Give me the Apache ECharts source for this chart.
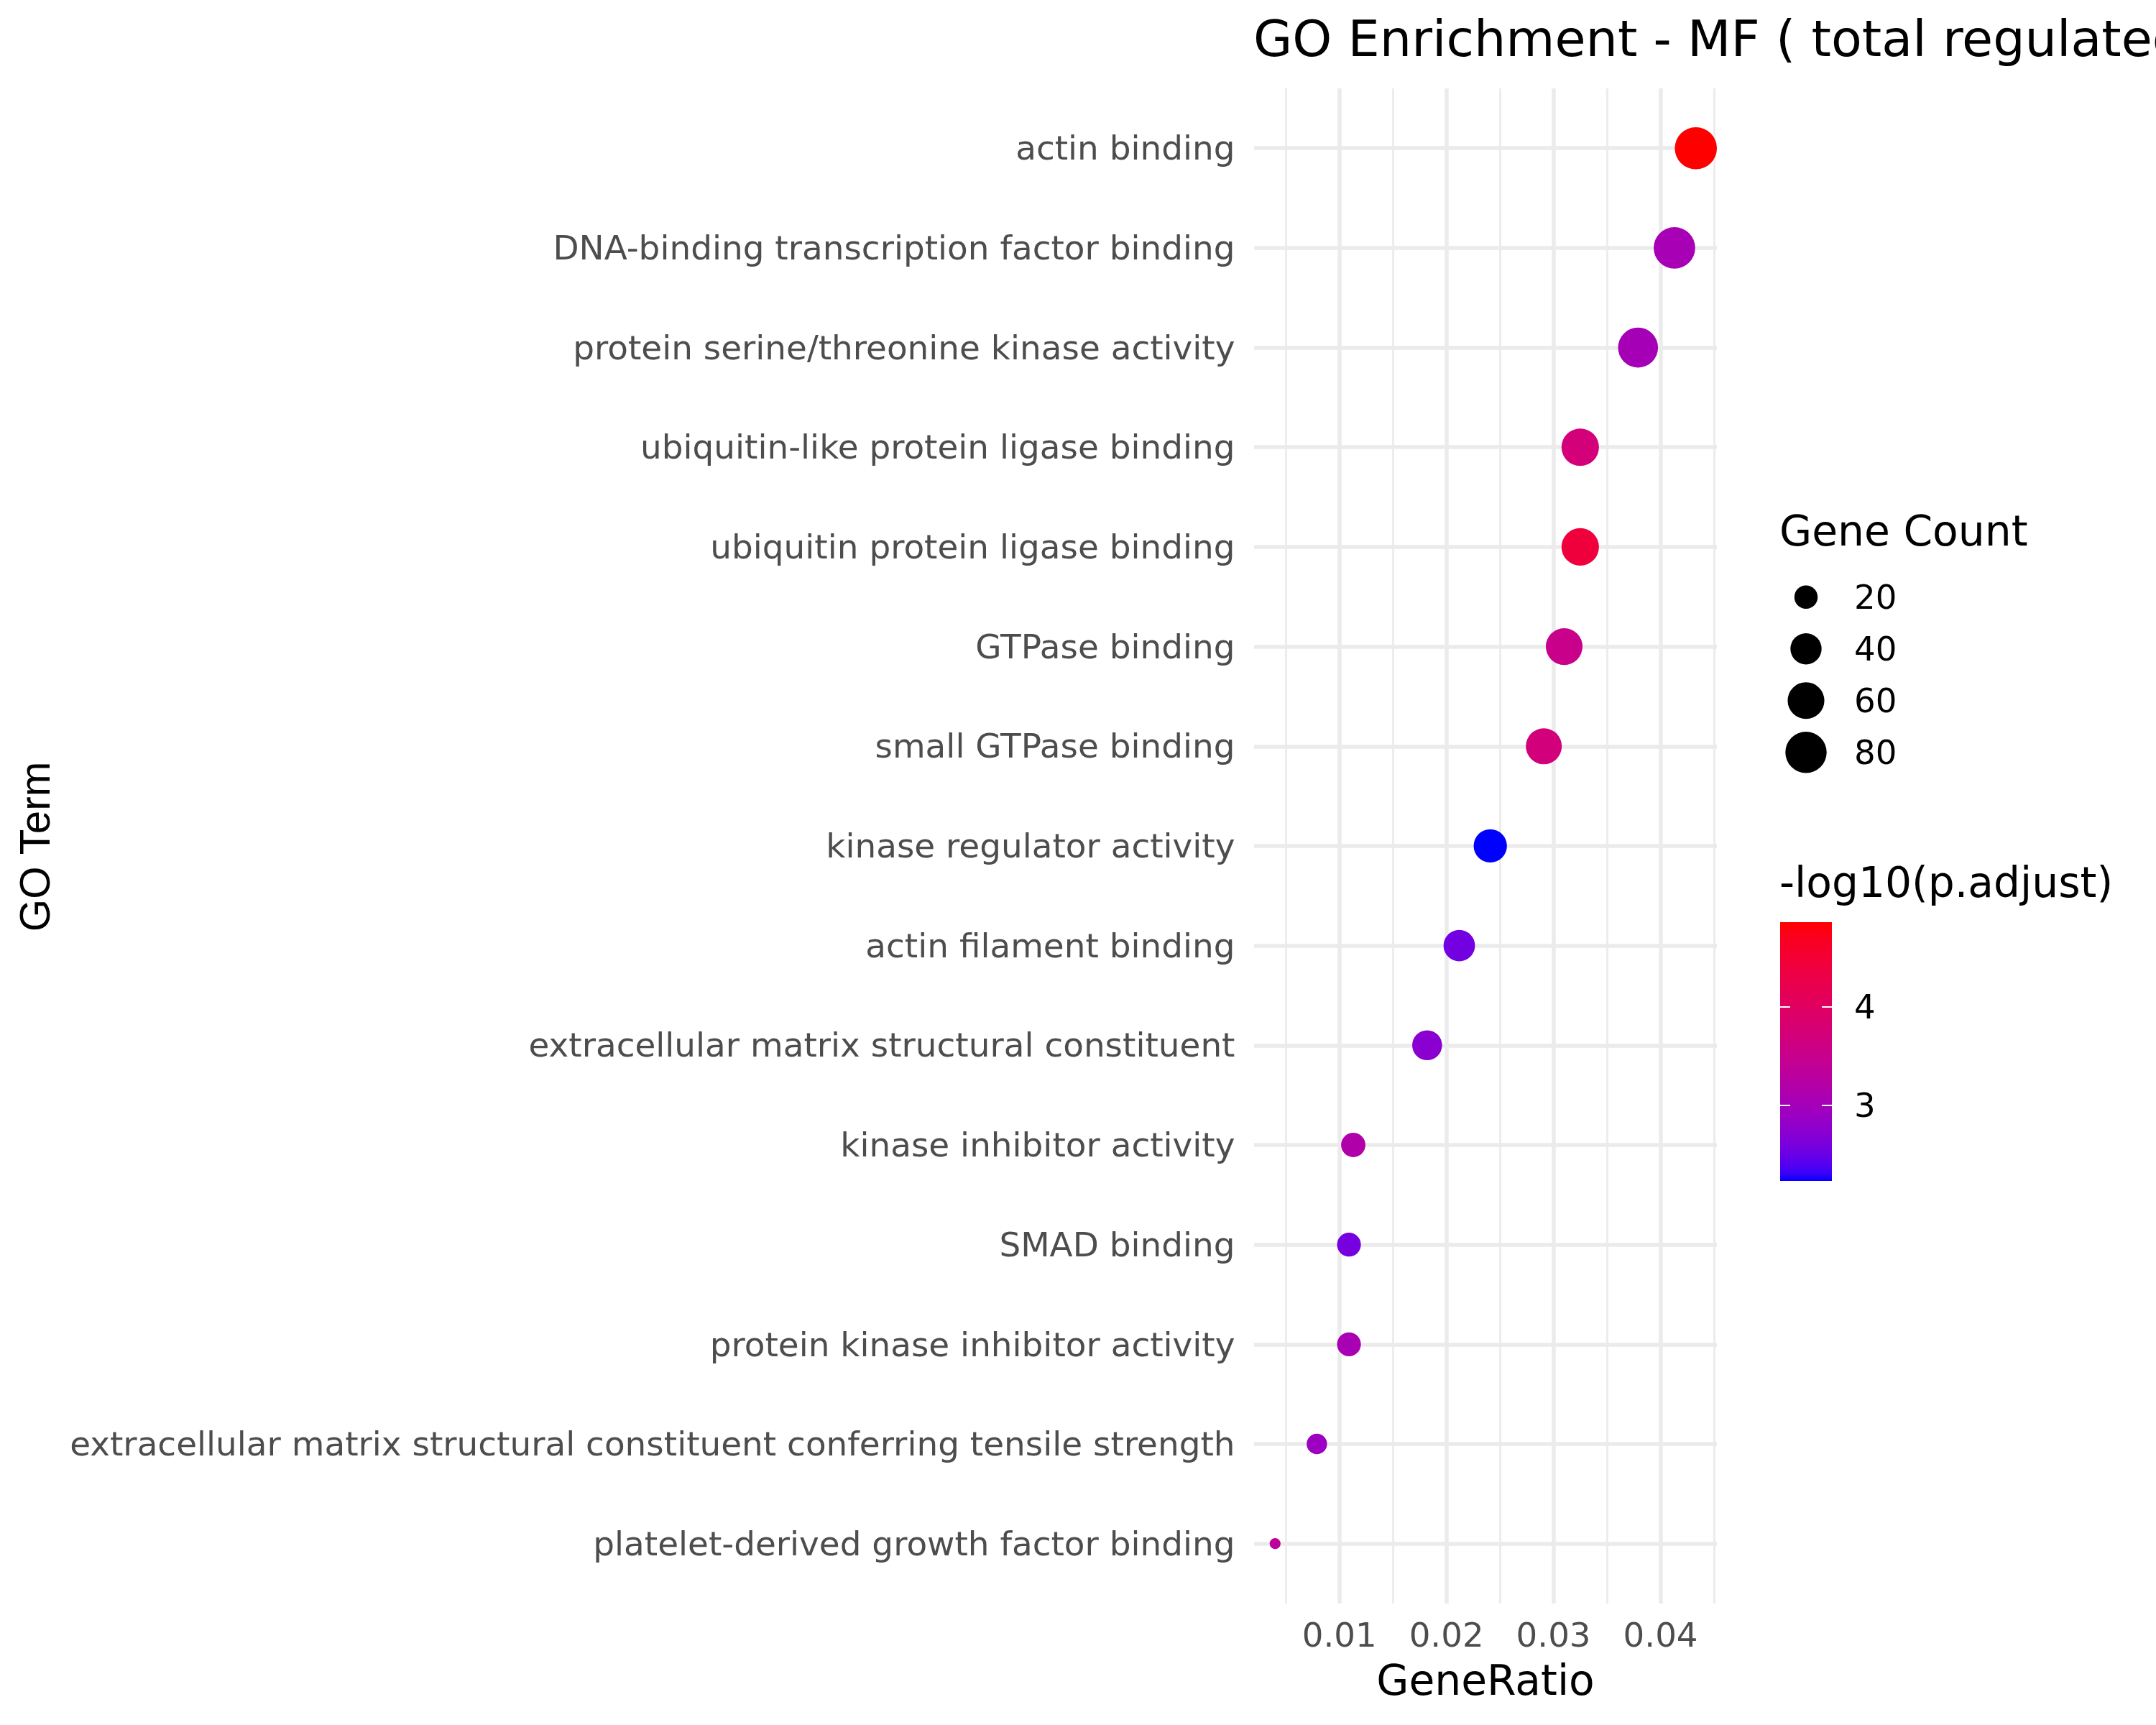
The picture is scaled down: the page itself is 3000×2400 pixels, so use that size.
<!DOCTYPE html>
<html>
<head>
<meta charset="utf-8">
<script src="https://cdn.jsdelivr.net/npm/echarts@6/dist/echarts.min.js"></script>
<style>
html,body{margin:0;padding:0;background:#ffffff;}
#chart{width:3000px;height:2400px;}
</style>
</head>
<body>
<div id="chart"></div>
<script>
// ---------------- data (top to bottom) ----------------
const terms = [
  'actin binding',
  'DNA-binding transcription factor binding',
  'protein serine/threonine kinase activity',
  'ubiquitin-like protein ligase binding',
  'ubiquitin protein ligase binding',
  'GTPase binding',
  'small GTPase binding',
  'kinase regulator activity',
  'actin filament binding',
  'extracellular matrix structural constituent',
  'kinase inhibitor activity',
  'SMAD binding',
  'protein kinase inhibitor activity',
  'extracellular matrix structural constituent conferring tensile strength',
  'platelet-derived growth factor binding'
];
const geneRatio = [0.0433, 0.0413, 0.0379, 0.0325, 0.0325, 0.0310, 0.0291, 0.0241, 0.0212, 0.0182, 0.0113, 0.0109, 0.0109, 0.0079, 0.0040];
const geneCount = [84, 81, 74, 63, 63, 60, 57, 47, 41, 36, 22, 21, 21, 15, 8];
const negLog10Padj = [4.86, 3.04, 3.02, 3.72, 4.41, 3.52, 3.70, 2.23, 2.55, 2.72, 3.17, 2.58, 3.06, 2.91, 3.34];

const xTicks = [0.01, 0.02, 0.03, 0.04];
const xMinorTicks = [0.005, 0.015, 0.025, 0.035, 0.045];
const sizeBreaks = [20, 40, 60, 80];
const colorTicks = [3, 4];

const titleText = 'GO Enrichment - MF ( total regulated genes )';

// ---------------- helpers ----------------
const FONT = '"DejaVu Sans", sans-serif';
function s2l(c){ c/=255; return c<=0.04045 ? c/12.92 : Math.pow((c+0.055)/1.055, 2.4); }
function l2s(c){ c=Math.max(0,Math.min(1,c)); return Math.round(255*(c<=0.0031308 ? 12.92*c : 1.055*Math.pow(c,1/2.4)-0.055)); }
const WX=0.95047, WY=1.0, WZ=1.08883;
function rgbToLab(rgb){
  const R=s2l(rgb[0]), G=s2l(rgb[1]), B=s2l(rgb[2]);
  const X=(0.4124564*R+0.3575761*G+0.1804375*B)/WX;
  const Y=(0.2126729*R+0.7151522*G+0.0721750*B)/WY;
  const Z=(0.0193339*R+0.1191920*G+0.9503041*B)/WZ;
  const f=t=> t>216/24389 ? Math.cbrt(t) : (24389/27*t+16)/116;
  const fx=f(X), fy=f(Y), fz=f(Z);
  return [116*fy-16, 500*(fx-fy), 200*(fy-fz)];
}
function labToRgb(lab){
  const fy=(lab[0]+16)/116, fx=fy+lab[1]/500, fz=fy-lab[2]/200;
  const fi=t=>{ const t3=t*t*t; return t3>216/24389 ? t3 : (116*t-16)/(24389/27); };
  const X=WX*fi(fx), Y=WY*fi(fy), Z=WZ*fi(fz);
  const R= 3.2404542*X-1.5371385*Y-0.4985314*Z;
  const G=-0.9692660*X+1.8760108*Y+0.0415560*Z;
  const B= 0.0556434*X-0.2040259*Y+1.0572252*Z;
  return 'rgb('+l2s(R)+','+l2s(G)+','+l2s(B)+')';
}
const labLow = rgbToLab([0,0,255]), labHigh = rgbToLab([255,0,0]);
const NSTOP = 40;
const rampColors = [];
for (let i=0;i<=NSTOP;i++){
  const t=i/NSTOP;
  rampColors.push(labToRgb([0,1,2].map(k=>labLow[k]+(labHigh[k]-labLow[k])*t)));
}
const gradStops = rampColors.map((c,i)=>({offset:i/NSTOP, color:c}));

const vMin = Math.min(...negLog10Padj), vMax = Math.max(...negLog10Padj);
const cMin = Math.min(...geneCount), cMax = Math.max(...geneCount);
const rMin = Math.min(...geneRatio), rMax = Math.max(...geneRatio);
const xMin = rMin - 0.05*(rMax-rMin), xMax = rMax + 0.05*(rMax-rMin);

function sizeOf(c){ return 15.2 + 43.4*Math.sqrt(Math.max(0,(c-cMin)/(cMax-cMin))); }

const pointData = terms.map((t,i)=>[geneRatio[i], t, negLog10Padj[i], geneCount[i]]);
const legendData = sizeBreaks.map(b=>[0.5, String(b), b]);

const gridColor = '#EBEBEB';
const DY = 4; // text baseline correction
// labels aligned 'top' with a tiny line height => text centre sits DY below the tick
const shiftedLabel = {verticalAlign:'top', lineHeight:2*DY};

const chart = echarts.init(document.getElementById('chart'), null, {renderer:'canvas'});
chart.setOption({
  animation:false,
  backgroundColor:'#ffffff',
  grid:[
    {left:1745, right:611, top:123, bottom:169},      // panel (vertical grid lines, x labels)
    {left:1745, right:611, top:206.2, bottom:252.3},  // points (row centres)
    {left:2477, right:451, top:830.7, bottom:1353.3}, // size legend
    {left:2477, right:451, top:1283, bottom:757}      // colour bar
  ],
  xAxis:[
    {gridIndex:0, type:'value', min:xMin, max:xMax,
     axisLine:{show:false},
     axisTick:{show:false, customValues:xTicks},
     axisLabel:{customValues:xTicks, color:'#4D4D4D', fontSize:46.7, fontFamily:FONT, margin:20.6+DY, lineHeight:46.7,
                formatter:v=>v.toFixed(2)},
     splitLine:{show:true, lineStyle:{color:gridColor, width:5.5}}},
    {gridIndex:0, type:'value', min:xMin, max:xMax,
     axisLine:{show:false},
     axisTick:{show:false, customValues:xMinorTicks},
     axisLabel:{show:false},
     splitLine:{show:true, lineStyle:{color:gridColor, width:2.75}}},
    {gridIndex:1, type:'value', min:xMin, max:xMax, show:false},
    {gridIndex:2, type:'value', min:0, max:1, show:false},
    {gridIndex:3, type:'category', data:['bar'], show:false}
  ],
  yAxis:[
    {gridIndex:0, type:'value', min:0, max:1, show:false},
    {gridIndex:1, type:'category', data:terms, inverse:true, boundaryGap:false,
     axisLine:{show:false}, axisTick:{show:false},
     axisLabel:Object.assign({interval:0, color:'#4D4D4D', fontSize:46.9, fontFamily:FONT, margin:26.5}, shiftedLabel),
     splitLine:{show:true, interval:0, lineStyle:{color:gridColor, width:5.5}}},
    {gridIndex:2, type:'category', data:sizeBreaks.map(String), inverse:true, boundaryGap:false, position:'right',
     axisLine:{show:false}, axisTick:{show:false}, splitLine:{show:false},
     axisLabel:Object.assign({interval:0, color:'#000000', fontSize:46.7, fontFamily:FONT, margin:31}, shiftedLabel)},
    {gridIndex:3, type:'value', min:vMin, max:vMax, position:'left', z:10,
     axisLine:{show:false}, splitLine:{show:false},
     axisTick:{show:true, inside:true, length:14, customValues:colorTicks, lineStyle:{color:'#ffffff', width:2}},
     axisLabel:{show:false}},
    {gridIndex:3, type:'value', min:vMin, max:vMax, position:'right', z:10,
     axisLine:{show:false}, splitLine:{show:false},
     axisTick:{show:true, inside:true, length:14, customValues:colorTicks, lineStyle:{color:'#ffffff', width:2}},
     axisLabel:Object.assign({customValues:colorTicks, color:'#000000', fontSize:46.7, fontFamily:FONT, margin:31}, shiftedLabel)}
  ],
  visualMap:[{
    type:'continuous', show:false, seriesIndex:0, dimension:2, min:vMin, max:vMax,
    inRange:{color:rampColors}
  }],
  series:[
    {type:'scatter', xAxisIndex:2, yAxisIndex:1, data:pointData, z:5,
     symbol:'circle', symbolSize:v=>sizeOf(v[3]), itemStyle:{opacity:1}},
    {type:'scatter', xAxisIndex:3, yAxisIndex:2, data:legendData,
     symbol:'circle', symbolSize:v=>sizeOf(v[2]), itemStyle:{color:'#000000', opacity:1}},
    {type:'custom', xAxisIndex:4, yAxisIndex:3, data:[[0, vMin, vMax]], encode:{x:0, y:[1,2]},
     renderItem:function(params, api){
       const top = api.coord([api.value(0), api.value(2)]);
       const bot = api.coord([api.value(0), api.value(1)]);
       const w = api.size([1,0])[0];
       return {type:'rect', shape:{x:top[0]-w/2, y:top[1], width:w, height:bot[1]-top[1]},
               style:{fill:new echarts.graphic.LinearGradient(0,1,0,0, gradStops)}};
     }}
  ],
  graphic:[
    {type:'text', x:1744, y:56+DY, style:{text:titleText, fontSize:70, fontFamily:FONT, fill:'#000000', align:'left', verticalAlign:'middle'}},
    {type:'text', x:2067, y:2339+DY, style:{text:'GeneRatio', fontSize:58.3, fontFamily:FONT, fill:'#000000', align:'center', verticalAlign:'middle'}},
    {type:'text', x:53, y:1178, rotation:Math.PI/2, style:{text:'GO Term', fontSize:58.3, fontFamily:'"Liberation Sans", Arial, sans-serif', fill:'#000000', align:'center', verticalAlign:'middle'}},
    {type:'text', x:2476, y:740+DY, style:{text:'Gene Count', fontSize:58.3, fontFamily:FONT, fill:'#000000', align:'left', verticalAlign:'middle'}},
    {type:'text', x:2476, y:1229+DY, style:{text:'-log10(p.adjust)', fontSize:58.3, fontFamily:FONT, fill:'#000000', align:'left', verticalAlign:'middle'}}
  ]
});
</script>
</body>
</html>
